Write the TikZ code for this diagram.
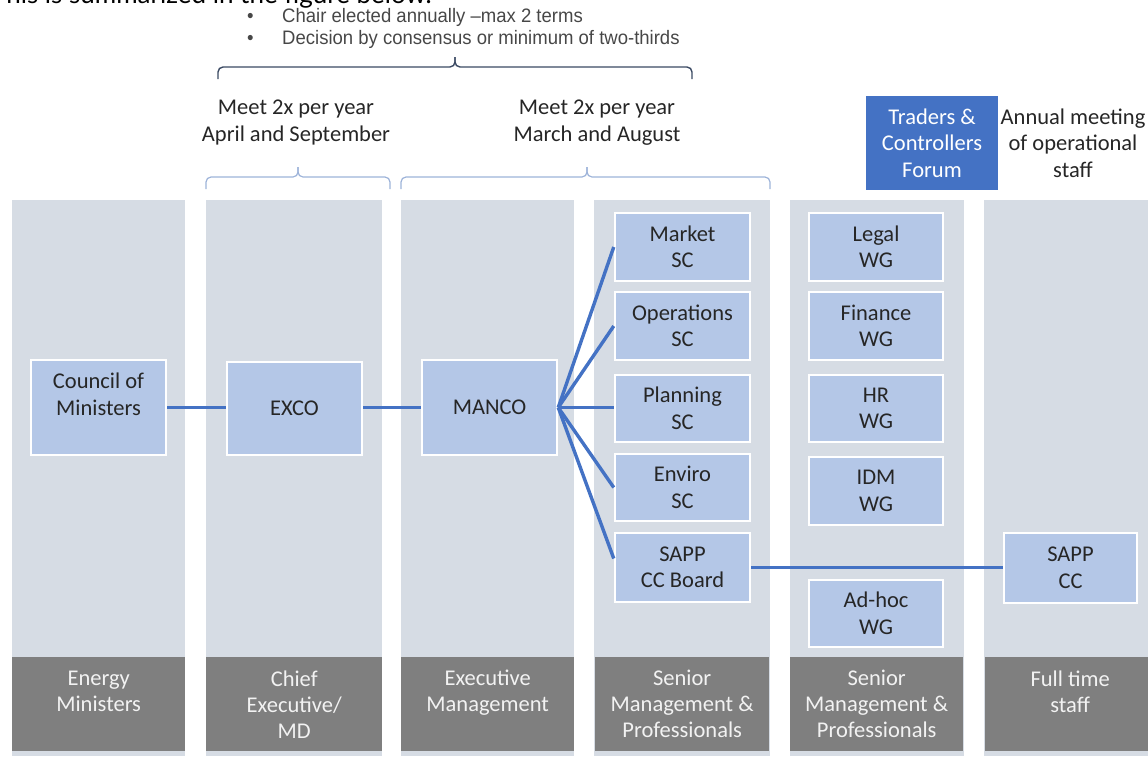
\documentclass[tikz,border=0pt]{standalone}
\usepackage{fontspec}
\setmainfont{Carlito}
\newfontfamily\bulletfont[FakeStretch=0.95]{Liberation Sans}
\newfontfamily\topfont{Lato}
\usetikzlibrary{calc}
\definecolor{colbg}{HTML}{D6DCE4}
\definecolor{boxfill}{HTML}{B4C7E7}
\definecolor{darkfill}{HTML}{7F7F7F}
\definecolor{linkblue}{HTML}{4472C4}
\definecolor{bracedark}{HTML}{3B4A63}
\definecolor{bracelight}{HTML}{9DB3D9}
\definecolor{txt}{HTML}{262626}
\begin{document}
\begin{tikzpicture}[x=1pt,y=-1pt,
  colbox/.style={fill=colbg, draw=none, anchor=north west, inner sep=0pt, minimum width=#1, minimum height=556},
  rolebox/.style={fill=darkfill, draw=none, anchor=north west, inner sep=0pt, minimum width=#1, minimum height=94,
     text=white!95!black, align=center, font=\fontsize{22.5}{26}\selectfont},
  unitbox/.style={fill=boxfill, draw=white, line width=2.5pt, text=txt, align=center, inner sep=0pt,
     font=\fontsize{22.5}{26.5}\selectfont},
  link/.style={draw=linkblue, line width=3.4pt},
  bigbrace/.style={draw=bracedark, line width=1.4pt, rounded corners=5pt},
  smallbrace/.style={draw=bracelight, line width=1.2pt, rounded corners=5pt},
  note/.style={text=txt, align=center, font=\fontsize{22.5}{27}\selectfont, inner sep=0pt},
  bullettext/.style={text=txt!85!white, anchor=base west, inner sep=0pt, font=\bulletfont\fontsize{19.5}{22}\selectfont}
]
\useasboundingbox (0,0) rectangle (1148,756);
\clip (0,0) rectangle (1148,756);

% intro text (cut off at the top)
\node[anchor=base west, inner sep=0pt, font=\topfont\fontsize{26}{30}\selectfont] (intro) at (-9,3) {This is summarized in the figure below.};

% bullets
\node[bullettext] (b1) at (247,22) {•};
\node[bullettext] (t1) at (282,22) {Chair elected annually –max 2 terms};
\node[bullettext] (b2) at (247,44) {•};
\node[bullettext] (t2) at (282,44) {Decision by consensus or minimum of two-thirds};

% big brace
\draw[bigbrace] (218,79) -- (218,67) -- (455,67) -- (455,57);
\draw[bigbrace] (692,79) -- (692,67) -- (455,67) -- (455,57);

% meeting notes
\node[note] (m1) at (296,123) {Meet 2x per year\\April and September};
\node[note] (m2) at (597,123) {Meet 2x per year\\March and August};

% small braces
\draw[smallbrace] (206,189) -- (206,177) -- (298,177) -- (298,167);
\draw[smallbrace] (390,189) -- (390,177) -- (298,177) -- (298,167);
\draw[smallbrace] (401,189) -- (401,177) -- (587,177) -- (587,167);
\draw[smallbrace] (770,189) -- (770,177) -- (587,177) -- (587,167);

% traders forum and annual meeting
\node[fill=linkblue, text=white, align=center, inner sep=0pt, minimum width=132, minimum height=94,
      font=\fontsize{22.5}{26.5}\selectfont] (tcf) at (932,143) {Traders \&\\Controllers\\Forum};
\node[note, font=\fontsize{22.5}{26.5}\selectfont] (annual) at (1073,143) {Annual meeting\\of operational\\staff};

% columns
\node[colbox=173] (c1) at (12,200) {};
\node[colbox=176] (c2) at (206,200) {};
\node[colbox=173] (c3) at (401,200) {};
\node[colbox=176] (c4) at (594,200) {};
\node[colbox=174] (c5) at (790,200) {};
\node[colbox=170] (c6) at (984,200) {};

% role boxes
\node[rolebox=173] (r1) at (12,657) {Energy\\Ministers\\~};
\node[rolebox=176] (r2) at (206,657) {Chief\\Executive/\\MD};
\node[rolebox=173] (r3) at (401,657) {Executive\\Management\\~};
\node[rolebox=174] (r4) at (595,657) {Senior\\Management \&\\Professionals};
\node[rolebox=173] (r5) at (790,657) {Senior\\Management \&\\Professionals};
\node[rolebox=170] (r6) at (985,657) {Full time\\staff\\~};

% unit boxes
\node[unitbox, minimum width=135, minimum height=95] (council) at (98.5,407.5) {Council of\\Ministers\\~};
\node[unitbox, minimum width=135, minimum height=93] (exco) at (294.5,408.5) {EXCO};
\node[unitbox, minimum width=135, minimum height=95] (manco) at (489.5,407.5) {MANCO};

\node[unitbox, minimum width=135, minimum height=68] (market) at (682.5,247) {Market\\SC};
\node[unitbox, minimum width=135, minimum height=68] (ops) at (682.5,326) {Operations\\SC};
\node[unitbox, minimum width=135, minimum height=67] (plan) at (682.5,408.5) {Planning\\SC};
\node[unitbox, minimum width=135, minimum height=67] (env) at (682.5,487.5) {Enviro\\SC};
\node[unitbox, minimum width=135, minimum height=69] (sappb) at (682.5,567.5) {SAPP\\CC Board};

\node[unitbox, minimum width=134, minimum height=68] (legal) at (876,247) {Legal\\WG};
\node[unitbox, minimum width=134, minimum height=68] (fin) at (876,326) {Finance\\WG};
\node[unitbox, minimum width=134, minimum height=67] (hr) at (876,408.5) {HR\\WG};
\node[unitbox, minimum width=134, minimum height=68] (idm) at (876,491) {IDM\\WG};
\node[unitbox, minimum width=134, minimum height=67] (adhoc) at (876,613.5) {Ad-hoc\\WG};

\node[unitbox, minimum width=133, minimum height=70] (sappcc) at (1070.5,568) {SAPP\\CC};

% connectors
\draw[link] (council.east) -- (exco.west |- council.east);
\draw[link] (exco.east |- manco.west) -- (manco.west);
\draw[link] (manco.east) -- (market.west);
\draw[link] (manco.east) -- (ops.west);
\draw[link] (manco.east) -- (plan.west |- manco.east);
\draw[link] (manco.east) -- (env.west);
\draw[link] (manco.east) -- ($(sappb.west)+(0,-9)$);
\draw[link] (sappb.east) -- (sappcc.west |- sappb.east);
\end{tikzpicture}
\end{document}
